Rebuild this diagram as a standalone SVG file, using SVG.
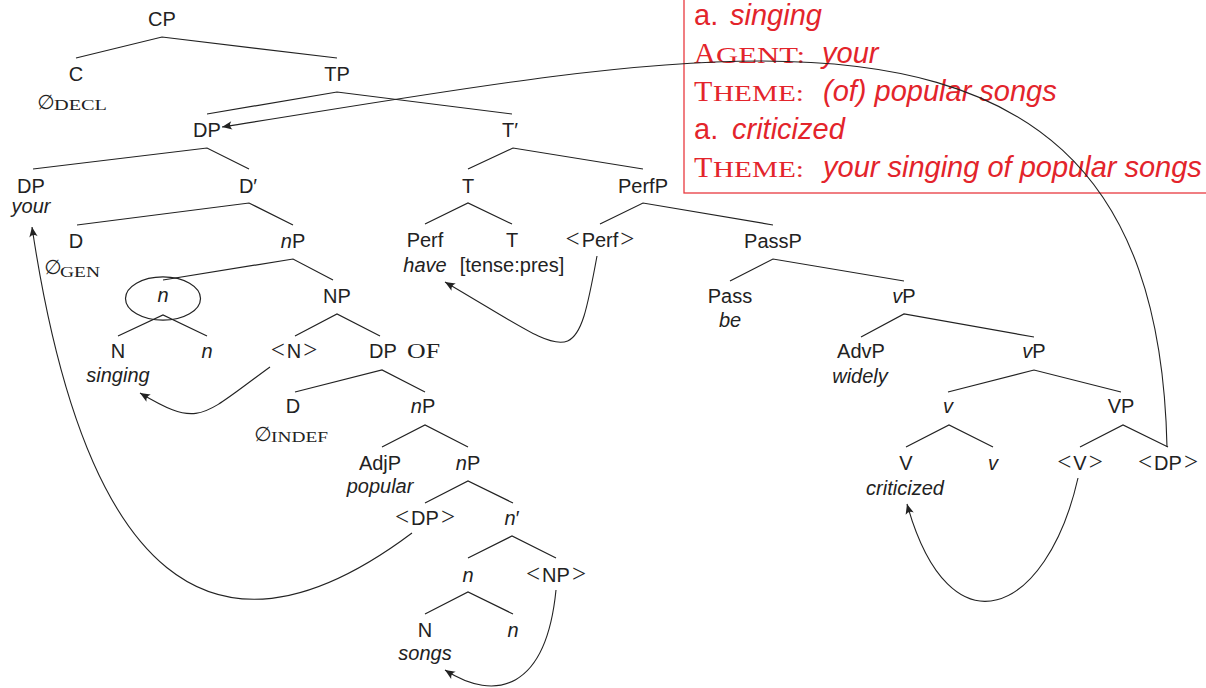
<svg xmlns="http://www.w3.org/2000/svg" width="1206" height="688" viewBox="0 0 1206 688">
<style>
text{font-family:"Liberation Sans",Arial,sans-serif;font-size:20px;fill:#222;text-anchor:middle}
.it{font-style:italic}
.sc{font-family:"Liberation Serif","Times New Roman",serif;text-anchor:start}
.ang{font-family:"Liberation Serif","Times New Roman",serif;font-size:25px}
.es{font-family:"DejaVu Sans",sans-serif;font-size:20px;text-anchor:middle}
.red{fill:#e3242b;font-size:29px;text-anchor:start}
.rsc{fill:#e3242b;font-family:"Liberation Serif","Times New Roman",serif;text-anchor:start}
.big{font-size:30px}
.small{font-size:23px}
.br{stroke:#222;stroke-width:1.2;fill:none}
.mv{stroke:#222;stroke-width:1.1;fill:none;marker-end:url(#ah)}
</style>
<defs>
<marker id="ah" viewBox="-11 -5 12 10" refX="0" refY="0" markerWidth="12" markerHeight="10" orient="auto" markerUnits="userSpaceOnUse">
<path d="M0,0 L-10,-4.2 Q-6.5,0 -10,4.2 Z" fill="#222"/>
</marker>
</defs>

<g id="box">
<rect x="684" y="-5" width="530" height="198" fill="none" stroke="#e8393f" stroke-width="1.3"/>
<text class="red" x="694" y="25">a.</text>
<text class="red it" x="730" y="25">singing</text>
<text class="rsc big" x="694" y="63">A</text>
<text class="rsc small" x="716" y="63" textLength="89" lengthAdjust="spacingAndGlyphs">GENT:</text>
<text class="red it" x="822" y="63">your</text>
<text class="rsc big" x="694" y="101">T</text>
<text class="rsc small" x="713" y="101" textLength="91" lengthAdjust="spacingAndGlyphs">HEME:</text>
<text class="red it" x="823" y="101">(of) popular songs</text>
<text class="red" x="694" y="139">a.</text>
<text class="red it" x="732" y="139">criticized</text>
<text class="rsc big" x="694" y="177">T</text>
<text class="rsc small" x="713" y="177" textLength="91" lengthAdjust="spacingAndGlyphs">HEME:</text>
<text class="red it" x="823" y="177">your singing of popular songs</text>
</g>

<g id="branches" class="br">
<path d="M76,58 L162,37 L337,58"/>
<path d="M207,114 L337,92 L512,114"/>
<path d="M33,169 L207,148 L249,169"/>
<path d="M77,225 L249,203 L293,225"/>
<path d="M163,280 L293,259 L333,280"/>
<path d="M118,336 L163,315 L207,336"/>
<path d="M295,336 L337,314 L380,336"/>
<path d="M295,392 L382,370 L425,392"/>
<path d="M382,447 L425,425 L468,447"/>
<path d="M425,503 L468,481 L513,503"/>
<path d="M468,558 L512,536 L556,558"/>
<path d="M425,614 L468,592 L513,614"/>
<path d="M468,169 L513,148 L643,169"/>
<path d="M425,224 L468,203 L512,224"/>
<path d="M600,224 L643,203 L773,225"/>
<path d="M730,281 L773,259 L904,281"/>
<path d="M861,337 L904,314 L1034,337"/>
<path d="M948,392 L1034,370 L1121,392"/>
<path d="M906,447 L949,425 L993,447"/>
<path d="M1080,447 L1123,425 L1168,447"/>
</g>

<g id="CP"><text x="162" y="26">CP</text></g>
<g id="C"><text x="76" y="81">C</text>
<text class="es" x="46" y="109">∅</text><text class="sc" x="54" y="110" style="font-size:15px" textLength="53" lengthAdjust="spacingAndGlyphs">DECL</text></g>
<g id="TP"><text x="337" y="81">TP</text></g>
<g id="DP-subj"><text x="207" y="137">DP</text></g>
<g id="Tbar"><text x="510" y="137">T′</text></g>
<g id="DP-spec"><text x="31" y="193">DP</text><text class="it" x="31" y="213">your</text></g>
<g id="Dbar"><text x="248" y="193">D′</text></g>
<g id="T"><text x="468" y="193">T</text></g>
<g id="PerfP"><text x="643" y="193">PerfP</text></g>
<g id="D-gen"><text x="76" y="248">D</text>
<text class="es" x="53" y="274">∅</text><text class="sc" x="60" y="277" style="font-size:14px" textLength="40" lengthAdjust="spacingAndGlyphs">GEN</text></g>
<g id="nP1"><text x="293" y="248"><tspan class="it">n</tspan>P</text></g>
<g id="Perf"><text x="425" y="247">Perf</text><text class="it" x="425" y="272">have</text></g>
<g id="T-low"><text x="512" y="247">T</text><text x="512" y="272">[tense:pres]</text></g>
<g id="Perf-copy"><text x="600" y="247"><tspan class="ang">&lt;</tspan><tspan dx="2">Perf</tspan><tspan class="ang" dx="2">&gt;</tspan></text></g>
<g id="PassP"><text x="773" y="248">PassP</text></g>
<g id="n-head"><ellipse cx="163" cy="298.5" rx="37.5" ry="21.7" fill="none" stroke="#222" stroke-width="1.2"/><text class="it" x="163" y="302">n</text></g>
<g id="NP"><text x="337" y="303">NP</text></g>
<g id="Pass"><text x="730" y="303">Pass</text><text class="it" x="730" y="327">be</text></g>
<g id="vP1"><text x="904" y="303"><tspan class="it">v</tspan>P</text></g>
<g id="N1"><text x="118" y="358">N</text><text class="it" x="118" y="382">singing</text></g>
<g id="n1"><text class="it" x="207" y="358">n</text></g>
<g id="N-copy"><text x="294" y="358"><tspan class="ang">&lt;</tspan><tspan dx="2">N</tspan><tspan class="ang" dx="2">&gt;</tspan></text></g>
<g id="DP-of"><text x="383" y="358">DP</text><text class="sc" x="407" y="358" textLength="33" lengthAdjust="spacingAndGlyphs">OF</text></g>
<g id="AdvP"><text x="861" y="358">AdvP</text><text class="it" x="860" y="383">widely</text></g>
<g id="vP2"><text x="1034" y="358"><tspan class="it">v</tspan>P</text></g>
<g id="D-indef"><text x="293" y="413">D</text>
<text class="es" x="263" y="441">∅</text><text class="sc" x="271" y="442" style="font-size:15px" textLength="57" lengthAdjust="spacingAndGlyphs">INDEF</text></g>
<g id="nP2"><text x="423" y="413"><tspan class="it">n</tspan>P</text></g>
<g id="v-head"><text class="it" x="948" y="413">v</text></g>
<g id="VP"><text x="1121" y="413">VP</text></g>
<g id="AdjP"><text x="380" y="470">AdjP</text><text class="it" x="380" y="493">popular</text></g>
<g id="nP3"><text x="468" y="470"><tspan class="it">n</tspan>P</text></g>
<g id="V"><text x="906" y="470">V</text><text class="it" x="905" y="495">criticized</text></g>
<g id="v-low"><text class="it" x="993" y="470">v</text></g>
<g id="V-copy"><text x="1080" y="470"><tspan class="ang">&lt;</tspan><tspan dx="2">V</tspan><tspan class="ang" dx="2">&gt;</tspan></text></g>
<g id="DP-obj-copy"><text x="1168" y="470"><tspan class="ang">&lt;</tspan><tspan dx="2">DP</tspan><tspan class="ang" dx="2">&gt;</tspan></text></g>
<g id="DP-poss-copy"><text x="425" y="525"><tspan class="ang">&lt;</tspan><tspan dx="2">DP</tspan><tspan class="ang" dx="2">&gt;</tspan></text></g>
<g id="nbar"><text x="512" y="525"><tspan class="it">n</tspan>′</text></g>
<g id="n2"><text class="it" x="468" y="582">n</text></g>
<g id="NP-copy"><text x="556" y="582"><tspan class="ang">&lt;</tspan><tspan dx="2">NP</tspan><tspan class="ang" dx="2">&gt;</tspan></text></g>
<g id="N2"><text x="425" y="637">N</text><text class="it" x="425" y="660">songs</text></g>
<g id="n3"><text class="it" x="513" y="637">n</text></g>

<g id="connectors">
<path class="mv" d="M1167,447 C1161,170 1030,61 760,61 C610,61 422,95.6 222,127"/>
<path class="mv" d="M412,533 C212,683 84.5,577 32,227"/>
<path class="mv" d="M270,367 C201,417 200,428.7 140,393"/>
<path class="mv" d="M597,256 C575,376 574.6,357.6 445,282"/>
<path class="mv" d="M1078,478 C1047,614.5 950,657.6 907,504"/>
<path class="mv" d="M556,590 C546,690 495.4,702.4 445,670"/>
</g>
</svg>
